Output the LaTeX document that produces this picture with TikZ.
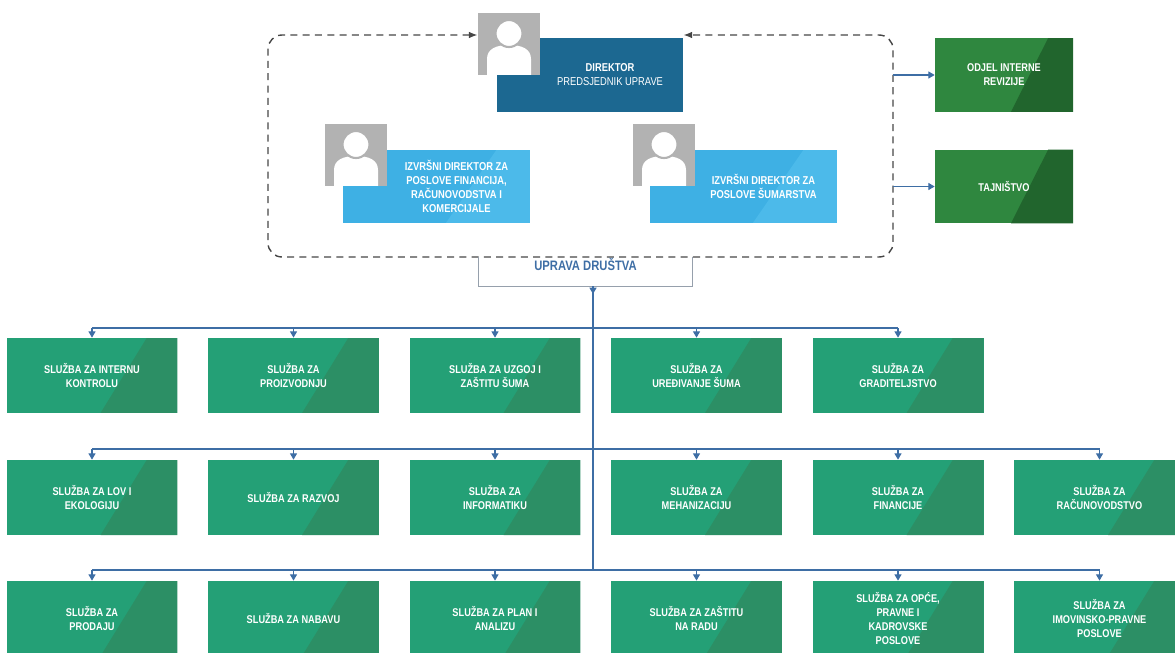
\documentclass[tikz,border=0pt]{standalone}
\usepackage{fontspec}
\setmainfont{Liberation Sans}[FakeStretch=0.82]
\usetikzlibrary{positioning,arrows.meta,calc}
\definecolor{tamnoplava}{RGB}{28,104,145}
\definecolor{svijetloplava}{RGB}{62,176,228}
\definecolor{plavasjena}{RGB}{76,186,234}
\definecolor{zelena}{RGB}{36,160,118}
\definecolor{zelenatamna}{RGB}{44,143,101}
\definecolor{odjelzelena}{RGB}{47,135,63}
\definecolor{odjeltamna}{RGB}{33,101,45}
\definecolor{linija}{RGB}{62,110,165}
\definecolor{siva}{RGB}{178,178,178}
\definecolor{crtkano}{RGB}{70,70,70}
\definecolor{okvirsiv}{RGB}{150,160,172}

\begin{document}
\begin{tikzpicture}[x=0.02cm,y=-0.02cm]
\tikzset{
kosina/.style={path picture={\fill[#1]
 ($(path picture bounding box.north west)!0.82!(path picture bounding box.north east)$)
 -- (path picture bounding box.north east) -- (path picture bounding box.south east)
 -- ($(path picture bounding box.south west)!0.55!(path picture bounding box.south east)$) -- cycle;}},
sluzba/.style={rectangle, fill=zelena, kosina=zelenatamna, text=white, align=center,
 minimum width=3.42cm, minimum height=1.5cm, inner sep=0pt,
 font=\bfseries\fontsize{6.4}{8}\selectfont},
odjel/.style={rectangle, fill=odjelzelena, kosina=odjeltamna, text=white, align=center,
 minimum width=2.76cm, minimum height=1.48cm, inner sep=0pt,
 font=\bfseries\fontsize{6.4}{8}\selectfont},
direktorbox/.style={rectangle, fill=tamnoplava, minimum width=3.72cm, minimum height=1.48cm},
izvrsni/.style={rectangle, fill=svijetloplava, kosina=plavasjena, minimum width=3.74cm, minimum height=1.46cm},
opis/.style={text=white, align=center, xshift=0.4cm, font=\bfseries\fontsize{6.5}{8}\selectfont},
foto/.style={rectangle, fill=siva, minimum size=1.24cm, inner sep=0pt,
 path picture={\begin{scope}[shift={(path picture bounding box.center)}]
  \fill[white] (-22,31) -- (-22,15) .. controls (-22,5) and (-13,1) .. (0,1)
   .. controls (13,1) and (22,5) .. (22,15) -- (22,31) -- cycle;
  \filldraw[white, draw=siva, line width=1.2pt] (0,-10.5) circle (13.5);
 \end{scope}}},
vod/.style={draw=linija, line width=0.7pt},
strelica/.style={vod, -{Triangle[length=3.6pt,width=4pt]}},
isprekidano/.style={draw=crtkano, line width=0.8pt, dash pattern=on 4pt off 3pt,
 rounded corners=8pt, {Latex[length=5pt]}-{Latex[length=5pt]}}
}
\clip[use as bounding box] (0,0) rectangle (1175,652);

% uprava
\node[direktorbox, label={[opis]center:{DIREKTOR\\\mdseries PREDSJEDNIK UPRAVE}}] (direktor) at (590,75) {};
\node[foto] (direktorfoto) at (509,44) {};
\node[izvrsni, label={[opis]center:{IZVRŠNI DIREKTOR ZA\\POSLOVE FINANCIJA,\\RAČUNOVODSTVA I\\KOMERCIJALE}}] (izvrsniF) at (436.5,186.5) {};
\node[foto] (fotoF) at (356,155) {};
\node[izvrsni, label={[opis]center:{IZVRŠNI DIREKTOR ZA\\POSLOVE ŠUMARSTVA}}] (izvrsniS) at (743.5,186.5) {};
\node[foto] (fotoS) at (664,155) {};
\coordinate (okvirA) at (268,35);
\coordinate (okvirB) at (893,257);
\draw[isprekidano] (direktorfoto.west |- okvirA) -- (okvirA) |- (okvirB) |- (direktor.east |- okvirA);
\node[inner sep=0pt, minimum width=4.26cm, text height=0.274cm, text depth=0.306cm,
 text=linija, font=\bfseries\fontsize{7.8}{9}\selectfont] (uprava) at (585.5,271.5) {UPRAVA DRUŠTVA};
\draw[draw=okvirsiv, line width=0.6pt] (uprava.north west) |- (uprava.south east) -- (uprava.north east);

\node[odjel] (revizija) at (1004,75) {ODJEL INTERNE\\REVIZIJE};
\node[odjel] (tajnistvo) at (1004,186.5) {TAJNIŠTVO};
\draw[strelica] (revizija.west -| okvirB) -- (revizija.west);
\draw[strelica] (tajnistvo.west -| okvirB) -- (tajnistvo.west);

% sluzbe
\node[sluzba] (kontrola) at (92,375.5) {SLUŽBA ZA INTERNU\\KONTROLU};
\node[sluzba] (proizvodnja) at (293.5,375.5) {SLUŽBA ZA\\PROIZVODNJU};
\node[sluzba] (uzgoj) at (495,375.5) {SLUŽBA ZA UZGOJ I\\ZAŠTITU ŠUMA};
\node[sluzba] (uredjivanje) at (696.5,375.5) {SLUŽBA ZA\\UREĐIVANJE ŠUMA};
\node[sluzba] (graditeljstvo) at (898,375.5) {SLUŽBA ZA\\GRADITELJSTVO};

\node[sluzba] (lov) at (92,497.5) {SLUŽBA ZA LOV I\\EKOLOGIJU};
\node[sluzba] (razvoj) at (293.5,497.5) {SLUŽBA ZA RAZVOJ};
\node[sluzba] (informatika) at (495,497.5) {SLUŽBA ZA\\INFORMATIKU};
\node[sluzba] (mehanizacija) at (696.5,497.5) {SLUŽBA ZA\\MEHANIZACIJU};
\node[sluzba] (financije) at (898,497.5) {SLUŽBA ZA\\FINANCIJE};
\node[sluzba] (racunovodstvo) at (1099.5,497.5) {SLUŽBA ZA\\RAČUNOVODSTVO};

\node[sluzba] (prodaja) at (92,618.5) {SLUŽBA ZA\\PRODAJU};
\node[sluzba] (nabava) at (293.5,618.5) {SLUŽBA ZA NABAVU};
\node[sluzba] (plan) at (495,618.5) {SLUŽBA ZA PLAN I\\ANALIZU};
\node[sluzba] (zastita) at (696.5,618.5) {SLUŽBA ZA ZAŠTITU\\NA RADU};
\node[sluzba] (opcipravni) at (898,618.5) {SLUŽBA ZA OPĆE,\\PRAVNE I\\KADROVSKE\\POSLOVE};
\node[sluzba] (imovina) at (1099.5,618.5) {SLUŽBA ZA\\IMOVINSKO-PRAVNE\\POSLOVE};

% veze
\coordinate (deblo) at (593,286);
\coordinate (bus1) at (593,328);
\coordinate (bus2) at (593,449);
\coordinate (bus3) at (593,570);
\draw[vod] (deblo) -- (bus3);
\draw[strelica] (deblo) -- ++(0,8);
\draw[vod] (kontrola.north |- bus1) -- (graditeljstvo.north |- bus1);
\draw[vod] (lov.north |- bus2) -- (racunovodstvo.north |- bus2);
\draw[vod] (prodaja.north |- bus3) -- (imovina.north |- bus3);
\foreach \n in {kontrola,proizvodnja,uzgoj,uredjivanje,graditeljstvo}
 \draw[strelica] (\n.north |- bus1) -- (\n.north);
\foreach \n in {lov,razvoj,informatika,mehanizacija,financije,racunovodstvo}
 \draw[strelica] (\n.north |- bus2) -- (\n.north);
\foreach \n in {prodaja,nabava,plan,zastita,opcipravni,imovina}
 \draw[strelica] (\n.north |- bus3) -- (\n.north);
\end{tikzpicture}
\end{document}
